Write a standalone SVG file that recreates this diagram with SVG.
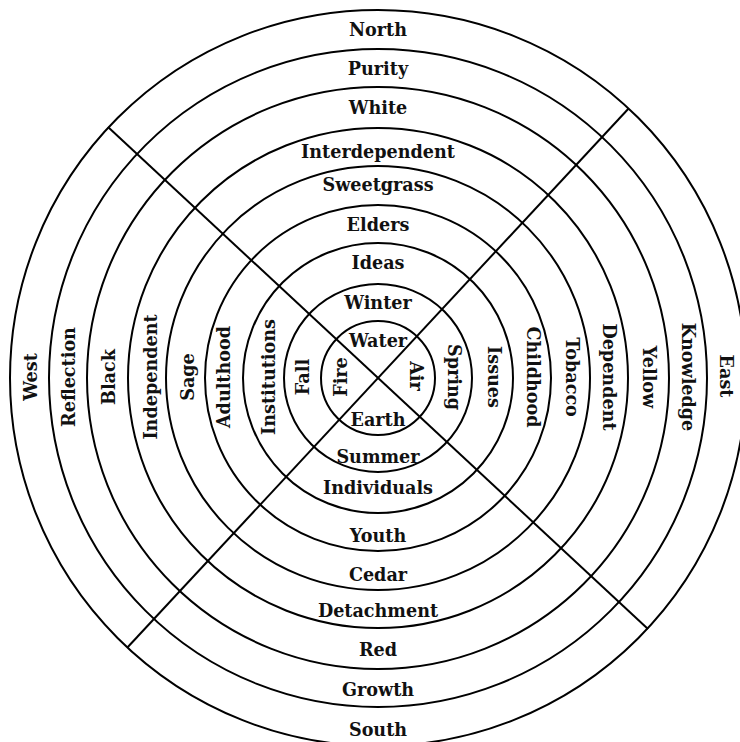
<svg xmlns="http://www.w3.org/2000/svg" width="740" height="742" viewBox="0 0 740 742">
<style>
.ring{fill:none;stroke:#000;stroke-width:2}
.div{stroke:#000;stroke-width:2;fill:none}
text{font-family:"DejaVu Serif","Liberation Serif",serif;font-weight:bold;font-size:17.6px;fill:#111;text-anchor:middle}
</style>
<rect width="740" height="742" fill="#fff"/>
<g id="rings">
<circle class="ring" cx="378" cy="378" r="57"/>
<circle class="ring" cx="378" cy="378" r="94"/>
<circle class="ring" cx="378" cy="378" r="135"/>
<circle class="ring" cx="378" cy="378" r="173"/>
<circle class="ring" cx="378" cy="378" r="212"/>
<circle class="ring" cx="378" cy="378" r="250"/>
<circle class="ring" cx="378" cy="378" r="291"/>
<circle class="ring" cx="378" cy="378" r="329"/>
<circle class="ring" cx="378" cy="378" r="368"/>
</g>
<g id="connectors">
<line class="div" x1="108" y1="127" x2="648" y2="629"/>
<line class="div" x1="628.6" y1="108.5" x2="127.4" y2="647.5"/>
</g>
<g id="north">
<text x="378" y="35.5">North</text>
<text x="378" y="75">Purity</text>
<text x="378" y="113.5">White</text>
<text x="378" y="158">Interdependent</text>
<text x="378" y="191">Sweetgrass</text>
<text x="378" y="230.5">Elders</text>
<text x="378" y="268.5">Ideas</text>
<text x="378" y="308.5">Winter</text>
<text x="378" y="346.5">Water</text>
</g>
<g id="south">
<text x="378" y="425.5">Earth</text>
<text x="378" y="463">Summer</text>
<text x="378" y="494">Individuals</text>
<text x="378" y="541.5">Youth</text>
<text x="378" y="580.5">Cedar</text>
<text x="378" y="617">Detachment</text>
<text x="378" y="655.5">Red</text>
<text x="378" y="696">Growth</text>
<text x="378" y="735.5">South</text>
</g>
<g id="west">
<text x="37" y="377" transform="rotate(-90 37 377)">West</text>
<text x="75" y="377" transform="rotate(-90 75 377)">Reflection</text>
<text x="114.5" y="377" transform="rotate(-90 114.5 377)">Black</text>
<text x="156.5" y="377" transform="rotate(-90 156.5 377)">Independent</text>
<text x="194" y="377" transform="rotate(-90 194 377)">Sage</text>
<text x="230" y="377" transform="rotate(-90 230 377)">Adulthood</text>
<text x="274.5" y="377" transform="rotate(-90 274.5 377)">Institutions</text>
<text x="308.5" y="377" transform="rotate(-90 308.5 377)">Fall</text>
<text x="347" y="377" transform="rotate(-90 347 377)">Fire</text>
</g>
<g id="east">
<text x="409.5" y="376" transform="rotate(90 409.5 376)">Air</text>
<text x="447.5" y="377" transform="rotate(90 447.5 377)">Spring</text>
<text x="487.5" y="377" transform="rotate(90 487.5 377)">Issues</text>
<text x="526.5" y="377" transform="rotate(90 526.5 377)">Childhood</text>
<text x="565.5" y="377" transform="rotate(90 565.5 377)">Tobacco</text>
<text x="603" y="377" transform="rotate(90 603 377)">Dependent</text>
<text x="642.5" y="377" transform="rotate(90 642.5 377)">Yellow</text>
<text x="682" y="377" transform="rotate(90 682 377)">Knowledge</text>
<text x="719.5" y="376" transform="rotate(90 719.5 376)">East</text>
</g>
</svg>
